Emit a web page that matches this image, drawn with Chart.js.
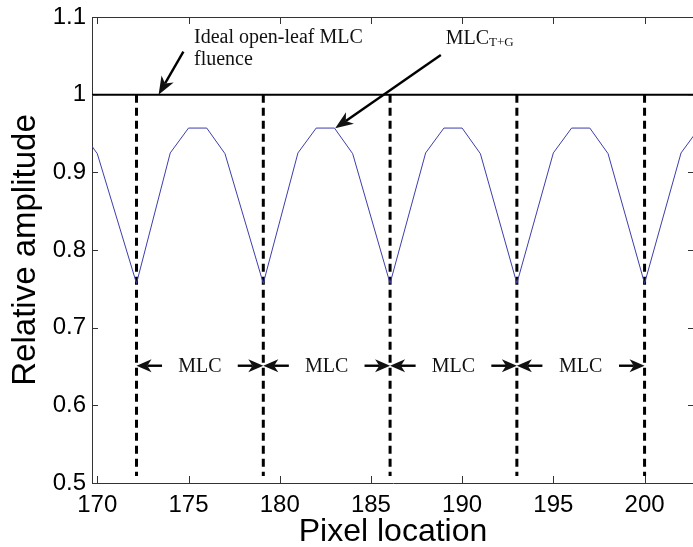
<!DOCTYPE html>
<html><head><meta charset="utf-8">
<script src="https://cdn.jsdelivr.net/npm/chart.js@4.4.1/dist/chart.umd.min.js"></script>
<style>
html,body{margin:0;padding:0;background:#fff;overflow:hidden;width:693px;height:547px}
#wrap{position:relative;width:694px;height:547px}
canvas{display:block}
</style>
</head><body><div id="wrap"><canvas id="c" width="694" height="547"></canvas></div>
<script>
// ---- data ----
const pixelX    = [169, 170, 172.15, 174, 175, 176, 177, 179.1, 181, 182, 183, 184, 186.05, 188, 189, 190, 191, 193.0, 195, 196, 197, 198, 200.0, 202, 203];
const amplitude = [0.957, 0.924, 0.757, 0.925, 0.957, 0.957, 0.924, 0.757, 0.925, 0.957, 0.957, 0.924, 0.757, 0.925, 0.957, 0.957, 0.924, 0.757, 0.925, 0.957, 0.957, 0.924, 0.757, 0.925, 0.957];
const idealFluence   = 1.0;
const leafBoundaries = [172.15, 179.1, 186.05, 193.0, 200.0];
const boundaryBottom = 0.509;
const xTickValues = [170, 175, 180, 185, 190, 195, 200];
const yTickValues = [0.5, 0.6, 0.7, 0.8, 0.9, 1.0, 1.1];
const yTickLabels = ['0.5', '0.6', '0.7', '0.8', '0.9', '1', '1.1'];
const xRange = [169.71, 202.71];
const yRange = [0.5, 1.1];

// ---- annotations (data units) ----
const idealLabelLines = ['Ideal open-leaf MLC', 'fluence'];
const idealLabelAt = [175.3, 1.0665];
const idealArrow = [[174.72, 1.0553], [173.36, 1.0]];
const tgLabelMain = 'MLC', tgLabelSub = 'T+G';
const tgLabelAt = [189.1, 1.0652];
const tgArrow = [[188.83, 1.051], [183.04, 0.9567]];
const mlcLabel = 'MLC';
const mlcLabelY = 0.651;
const mlcArrowSpan = 1.4;

const curve = pixelX.map((x, i) => ({x, y: amplitude[i]}));
const datasets = [
  {data: curve, borderColor: '#3d3dab', borderWidth: 1, pointRadius: 0, showLine: true, tension: 0},
  {data: [{x: xRange[0] - 1, y: idealFluence}, {x: xRange[1] + 1, y: idealFluence}], borderColor: '#000', borderWidth: 2, pointRadius: 0, showLine: true}
];
leafBoundaries.forEach(b => datasets.push({
  data: [{x: b, y: idealFluence}, {x: b, y: boundaryBottom}],
  borderColor: '#000', borderWidth: 3, borderDash: [8, 5], pointRadius: 0, showLine: true
}));

function arrow(ctx, x1, y1, x2, y2, hl, hw, lw) {
  const a = Math.atan2(y2 - y1, x2 - x1), c = Math.cos(a), s = Math.sin(a);
  const bx = x2 - hl * c, by = y2 - hl * s;
  const nx = x2 - hl * 0.72 * c, ny = y2 - hl * 0.72 * s;
  ctx.beginPath(); ctx.moveTo(x1, y1); ctx.lineTo(nx, ny); ctx.lineWidth = lw; ctx.stroke();
  ctx.beginPath(); ctx.moveTo(x2, y2);
  ctx.lineTo(bx - hw * s, by + hw * c); ctx.lineTo(nx, ny); ctx.lineTo(bx + hw * s, by - hw * c);
  ctx.closePath(); ctx.fill();
}

const framePlugin = {
  id: 'frame',
  afterDraw(chart) {
    const {ctx, chartArea: ca, scales: {x, y}} = chart;
    ctx.save();
    ctx.strokeStyle = '#333'; ctx.lineWidth = 1;
    ctx.beginPath();
    ctx.moveTo(ca.left, ca.top + 0.5); ctx.lineTo(ca.right, ca.top + 0.5);
    ctx.moveTo(ca.right - 0.5, ca.top); ctx.lineTo(ca.right - 0.5, ca.bottom);
    xTickValues.forEach(v => {
      const px = Math.round(x.getPixelForValue(v)) + 0.5;
      ctx.moveTo(px, ca.bottom); ctx.lineTo(px, ca.bottom - 7);
      ctx.moveTo(px, ca.top); ctx.lineTo(px, ca.top + 7);
    });
    yTickValues.forEach(v => {
      const py = Math.round(y.getPixelForValue(v)) + 0.5;
      ctx.moveTo(ca.left, py); ctx.lineTo(ca.left + 6, py);
      ctx.moveTo(ca.right, py); ctx.lineTo(ca.right - 6, py);
    });
    ctx.stroke();
    ctx.restore();
  },
  afterDatasetsDraw(chart) {
    const {ctx, scales: {x, y}} = chart;
    const P = (p) => [x.getPixelForValue(p[0]), y.getPixelForValue(p[1])];
    ctx.save();
    ctx.fillStyle = '#111'; ctx.strokeStyle = '#000';
    ctx.font = '20px "Liberation Serif", "Times New Roman", serif';
    ctx.textAlign = 'left'; ctx.textBaseline = 'alphabetic';
    const il = P(idealLabelAt);
    idealLabelLines.forEach((t, i) => ctx.fillText(t, il[0], il[1] + i * 22));
    const ia = idealArrow.map(P);
    arrow(ctx, ia[0][0], ia[0][1], ia[1][0], ia[1][1], 18, 7, 2.4);
    const tl = P(tgLabelAt);
    ctx.fillText(tgLabelMain, tl[0], tl[1]);
    const w = ctx.measureText(tgLabelMain).width;
    ctx.font = '13px "Liberation Serif", "Times New Roman", serif';
    ctx.fillText(tgLabelSub, tl[0] + w, tl[1] + 2);
    const ta = tgArrow.map(P);
    arrow(ctx, ta[0][0], ta[0][1], ta[1][0], ta[1][1], 18, 7, 2.4);
    ctx.font = '20px "Liberation Serif", "Times New Roman", serif';
    ctx.textAlign = 'center'; ctx.textBaseline = 'middle';
    const py = y.getPixelForValue(mlcLabelY);
    for (let i = 0; i < leafBoundaries.length - 1; i++) {
      const a = leafBoundaries[i], b = leafBoundaries[i + 1];
      ctx.fillText(mlcLabel, x.getPixelForValue((a + b) / 2), py + 1);
      arrow(ctx, x.getPixelForValue(a + mlcArrowSpan), py, x.getPixelForValue(a), py, 15, 6.5, 2.4);
      arrow(ctx, x.getPixelForValue(b - mlcArrowSpan), py, x.getPixelForValue(b), py, 15, 6.5, 2.4);
    }
    ctx.restore();
  }
};

new Chart(document.getElementById('c'), {
  type: 'scatter',
  data: {datasets},
  options: {
    responsive: false, animation: false, devicePixelRatio: 1,
    layout: {padding: {top: 17, left: 0, right: 0, bottom: 0}},
    plugins: {legend: {display: false}, tooltip: {enabled: false}},
    scales: {
      x: {
        type: 'linear', position: 'bottom', min: xRange[0], max: xRange[1],
        afterBuildTicks: s => { s.ticks = xTickValues.map(v => ({value: v})); },
        afterFit: s => { s.height = 64; },
        grid: {display: false, drawTicks: false},
        border: {display: true, color: '#333', width: 1},
        ticks: {color: '#000', padding: 8, maxRotation: 0, autoSkip: false,
                font: {family: '"Liberation Sans", Arial, sans-serif', size: 24},
                callback: v => String(v)},
        title: {display: true, text: 'Pixel location', color: '#000', padding: 0,
                font: {family: '"Liberation Sans", Arial, sans-serif', size: 32, lineHeight: 0.9}}
      },
      y: {
        type: 'linear', position: 'left', min: yRange[0], max: yRange[1],
        afterBuildTicks: s => { s.ticks = yTickValues.map(v => ({value: v})); },
        afterFit: s => { s.width = 92; },
        grid: {display: false, drawTicks: false},
        border: {display: true, color: '#333', width: 1},
        ticks: {color: '#000', padding: 6, autoSkip: false,
                font: {family: '"Liberation Sans", Arial, sans-serif', size: 24, lineHeight: 0.85},
                callback: (v) => { const i = yTickValues.findIndex(t => Math.abs(t - v) < 1e-9); return i >= 0 ? yTickLabels[i] : ''; }},
        title: {display: true, text: 'Relative amplitude', color: '#000', padding: {top: 9, bottom: 0},
                font: {family: '"Liberation Sans", Arial, sans-serif', size: 33, lineHeight: 1}}
      }
    }
  },
  plugins: [framePlugin]
});
</script>
</body></html>
